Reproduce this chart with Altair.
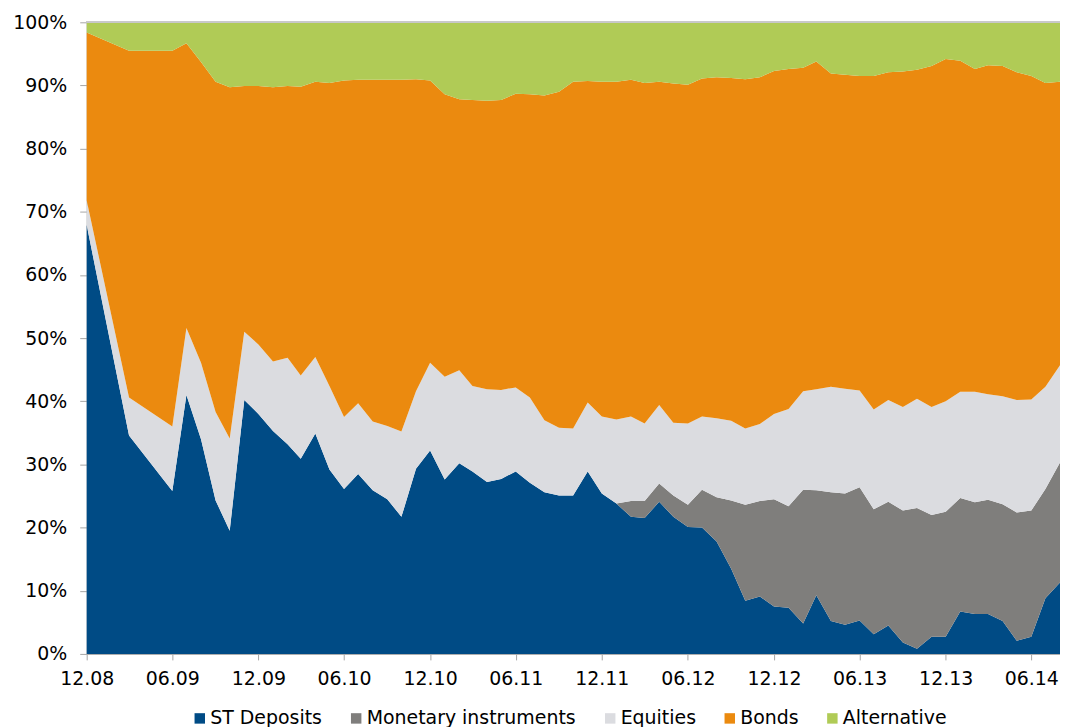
import altair as alt
import pandas as pd

months = [
    "2008-12", "2009-03", "2009-06", "2009-07", "2009-08", "2009-09", "2009-10", "2009-11", "2009-12",
    "2010-01", "2010-02", "2010-03", "2010-04", "2010-05", "2010-06", "2010-07", "2010-08", "2010-09", "2010-10", "2010-11", "2010-12",
    "2011-01", "2011-02", "2011-03", "2011-04", "2011-05", "2011-06", "2011-07", "2011-08", "2011-09", "2011-10", "2011-11", "2011-12",
    "2012-01", "2012-02", "2012-03", "2012-04", "2012-05", "2012-06", "2012-07", "2012-08", "2012-09", "2012-10", "2012-11", "2012-12",
    "2013-01", "2013-02", "2013-03", "2013-04", "2013-05", "2013-06", "2013-07", "2013-08", "2013-09", "2013-10", "2013-11", "2013-12",
    "2014-01", "2014-02", "2014-03", "2014-04", "2014-05", "2014-06", "2014-07", "2014-08",
]

st_deposits = [
    67.9, 34.6, 25.8, 41.0, 34.0, 24.3, 19.5, 40.2, 38.0,
    35.3, 33.2, 30.9, 34.9, 29.2, 26.1, 28.5, 25.9, 24.5, 21.7, 29.3, 32.2,
    27.6, 30.2, 28.9, 27.2, 27.7, 28.9, 27.1, 25.6, 25.1, 25.1, 28.9, 25.4,
    23.8, 21.7, 21.5, 24.1, 21.7, 20.1, 20.0, 17.8, 13.5, 8.4, 9.1, 7.5,
    7.3, 4.8, 9.3, 5.2, 4.6, 5.3, 3.1, 4.5, 1.8, 0.8, 2.7, 2.7,
    6.7, 6.3, 6.3, 5.2, 2.1, 2.7, 8.8, 11.3,
]

monetary = [
    0, 0, 0, 0, 0, 0, 0, 0, 0,
    0, 0, 0, 0, 0, 0, 0, 0, 0, 0, 0, 0,
    0, 0, 0, 0, 0, 0, 0, 0, 0, 0, 0, 0,
    0.0, 2.5, 2.7, 2.9, 3.4, 3.5, 6.0, 7.0, 10.8, 15.2, 15.1, 17.0,
    16.1, 21.2, 16.6, 20.4, 20.8, 21.1, 19.8, 19.6, 20.9, 22.3, 19.3, 19.8,
    18.0, 17.7, 18.1, 18.5, 20.3, 20.0, 17.3, 19.0,
]

equities = [
    3.9, 6.0, 10.2, 10.6, 12.1, 14.0, 14.6, 10.8, 11.0,
    11.0, 13.7, 13.2, 12.1, 13.2, 11.4, 11.2, 10.9, 11.6, 13.5, 12.3, 13.9,
    16.3, 14.7, 13.5, 14.7, 14.1, 13.3, 13.5, 11.4, 10.7, 10.6, 10.9, 12.2,
    13.3, 13.4, 12.3, 12.4, 11.5, 12.9, 11.6, 12.5, 12.6, 12.1, 12.2, 13.5,
    15.4, 15.6, 16.0, 16.7, 16.6, 15.3, 15.8, 16.1, 16.4, 17.3, 17.1, 17.5,
    16.8, 17.5, 16.7, 17.1, 17.8, 17.6, 16.2, 15.4,
]

bonds = [
    26.6, 54.9, 59.5, 45.1, 47.6, 52.3, 55.6, 38.9, 40.9,
    43.4, 43.0, 45.7, 43.6, 48.0, 53.3, 51.2, 54.1, 54.8, 55.7, 49.4, 44.7,
    44.7, 42.9, 45.3, 45.7, 45.9, 46.5, 48.0, 51.4, 53.2, 54.9, 50.9, 53.0,
    53.5, 53.3, 53.9, 51.2, 53.7, 53.6, 53.5, 54.0, 54.3, 55.3, 54.9, 54.3,
    53.9, 51.2, 51.9, 49.6, 49.7, 49.8, 52.8, 51.9, 53.1, 52.1, 54.0, 54.2,
    52.4, 51.1, 52.1, 52.3, 51.9, 51.2, 48.1, 44.9,
]

alternative = [
    1.6, 4.5, 4.5, 3.3, 6.3, 9.4, 10.3, 10.1, 10.1,
    10.3, 10.1, 10.2, 9.4, 9.6, 9.2, 9.1, 9.1, 9.1, 9.1, 9.0, 9.2,
    11.4, 12.2, 12.3, 12.4, 12.3, 11.3, 11.4, 11.6, 11.0, 9.4, 9.3, 9.4,
    9.4, 9.1, 9.6, 9.4, 9.7, 9.9, 8.9, 8.7, 8.8, 9.0, 8.7, 7.7,
    7.4, 7.2, 6.2, 8.1, 8.3, 8.5, 8.5, 7.9, 7.8, 7.5, 6.9, 5.8,
    6.1, 7.4, 6.8, 6.9, 7.9, 8.5, 9.6, 9.4,
]

series_names = ["ST Deposits", "Monetary instruments", "Equities", "Bonds", "Alternative"]
series_colors = ["#004B85", "#7F7E7C", "#DBDCE0", "#EB8A0F", "#B0CB56"]
tick_months = ["2008-12", "2009-06", "2009-12", "2010-06", "2010-12", "2011-06",
               "2011-12", "2012-06", "2012-12", "2013-06", "2013-12", "2014-06"]
y_ticks = [0, 0.1, 0.2, 0.3, 0.4, 0.5, 0.6, 0.7, 0.8, 0.9, 1.0]


def ms(month):
    return int(pd.Timestamp(month + "-01", tz="UTC").value // 10**6)


rows = []
for k, (name, vals) in enumerate(zip(series_names, [st_deposits, monetary, equities, bonds, alternative])):
    for m, v in zip(months, vals):
        rows.append({"date": m + "-01", "series": name, "value": v, "order": k})
df = pd.DataFrame(rows)

FONT = "DejaVu Sans"
FS = 19

x_enc = alt.X(
    "date:T",
    title=None,
    scale=alt.Scale(type="utc", domain=[ms(months[0]), ms(months[-1])], nice=False),
    axis=alt.Axis(
        values=[ms(t) for t in tick_months],
        labelExpr="utcFormat(datum.value, '%m.%y')",
        tickSize=6,
        labelPadding=10,
        labelFlush=False,
        labelOverlap=False,
    ),
)

area = alt.Chart(df).mark_area(opacity=1, interpolate="linear").encode(
    x=x_enc,
    y=alt.Y(
        "value:Q",
        stack="normalize",
        title=None,
        scale=alt.Scale(domain=[0, 1], nice=False),
        axis=alt.Axis(values=y_ticks, format=".0%", tickSize=7, labelPadding=13),
    ),
    color=alt.Color(
        "series:N",
        scale=alt.Scale(domain=series_names, range=series_colors),
        legend=alt.Legend(
            title=None,
            orient="none",
            legendX=104,
            legendY=689,
            direction="horizontal",
            symbolType="square",
            symbolSize=110,
            symbolStrokeWidth=0,
            symbolOpacity=1,
            labelFont=FONT,
            labelFontSize=FS,
            labelColor="#000000",
            labelOffset=1,
            columnPadding=24,
            labelLimit=400,
        ),
    ),
    order=alt.Order("order:Q", sort="ascending"),
)

top_rule = alt.Chart(df).mark_rule(color="#C8C8C8", strokeWidth=1).encode(y=alt.datum(1.0))

chart = alt.layer(area, top_rule).properties(
    width=977,
    height=634,
    padding={"left": 79, "top": 13, "right": 0, "bottom": 72},
    autosize=alt.AutoSizeParams(type="none"),
).configure_view(stroke=None).configure_axis(
    grid=False,
    domainColor="#A6A6A6",
    tickColor="#A6A6A6",
    labelColor="#000000",
    labelFont=FONT,
    labelFontSize=FS,
)

chart.save("out.html", embed_options={"renderer": "svg", "actions": False})
